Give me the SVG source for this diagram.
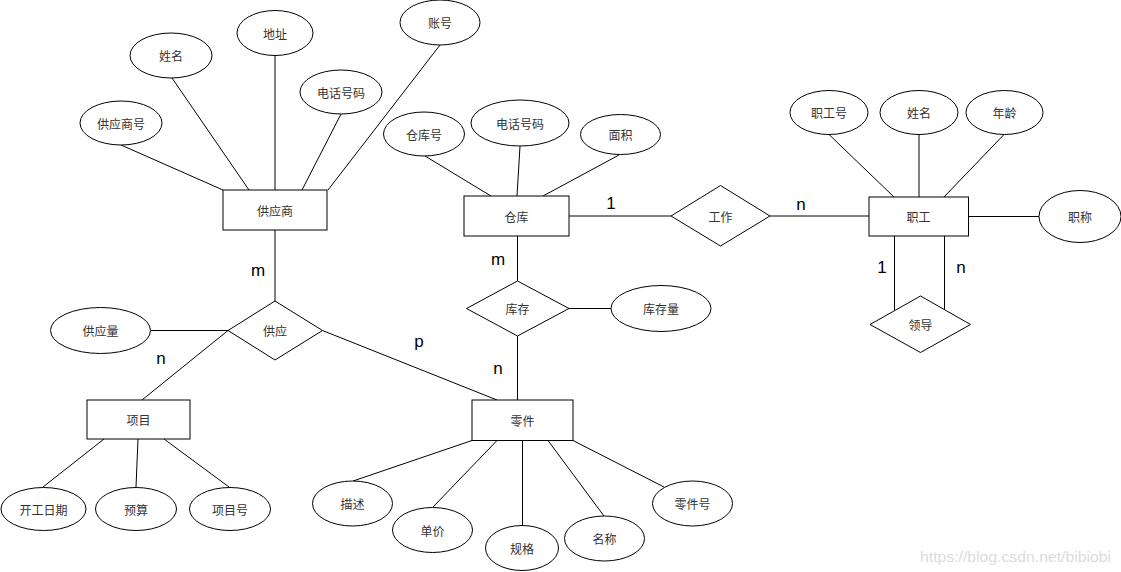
<svg xmlns="http://www.w3.org/2000/svg" width="1121" height="572" viewBox="0 0 1121 572">
<style>
.s{fill:#fff;stroke:#000;stroke-width:1}
.t{font-family:"Noto Sans CJK SC","Liberation Sans",sans-serif;font-size:12px;fill:#333;text-anchor:middle;dominant-baseline:central}
.c{font-family:"Liberation Sans",Arial,sans-serif;font-size:17px;fill:#000;text-anchor:middle;dominant-baseline:central}
#connectors line{stroke:#000;stroke-width:1}
</style>
<rect width="1121" height="572" fill="#fff"/>
<g id="connectors">
<line x1="121" y1="145" x2="223" y2="190"/>
<line x1="172" y1="78" x2="249" y2="190"/>
<line x1="275" y1="55" x2="275" y2="190"/>
<line x1="341" y1="114" x2="302" y2="190"/>
<line x1="440" y1="45" x2="328" y2="190"/>
<line x1="275" y1="230" x2="275" y2="301"/>
<line x1="151" y1="330.5" x2="228" y2="330.5"/>
<line x1="228" y1="330.5" x2="142" y2="400"/>
<line x1="322.5" y1="330.5" x2="497" y2="400"/>
<line x1="104" y1="439" x2="43" y2="487"/>
<line x1="138" y1="439" x2="136" y2="487"/>
<line x1="164" y1="439" x2="229" y2="487"/>
<line x1="425" y1="156" x2="491" y2="196"/>
<line x1="520" y1="146" x2="517" y2="196"/>
<line x1="619" y1="155" x2="543" y2="196"/>
<line x1="569" y1="216" x2="671" y2="216"/>
<line x1="770" y1="216" x2="869" y2="216"/>
<line x1="517.5" y1="236" x2="517.5" y2="281"/>
<line x1="569" y1="308.5" x2="611" y2="308.5"/>
<line x1="517.5" y1="336" x2="517.5" y2="400"/>
<line x1="472" y1="440.5" x2="353" y2="481"/>
<line x1="497" y1="440.5" x2="433" y2="507"/>
<line x1="522.5" y1="440.5" x2="522.5" y2="525"/>
<line x1="548" y1="440.5" x2="604" y2="516"/>
<line x1="573" y1="440.5" x2="664" y2="487"/>
<line x1="829" y1="134.5" x2="894" y2="197"/>
<line x1="919" y1="134.5" x2="919" y2="197"/>
<line x1="1004" y1="134.5" x2="944" y2="197"/>
<line x1="968.5" y1="216.5" x2="1039" y2="216.5"/>
<line x1="894.5" y1="236" x2="894.5" y2="310"/>
<line x1="944.5" y1="236" x2="944.5" y2="310"/>
</g>
<g id="labels">
<text class="c" x="258" y="270">m</text>
<text class="c" x="161" y="358">n</text>
<text class="c" x="419" y="341">p</text>
<text class="c" x="611" y="203">1</text>
<text class="c" x="498" y="259">m</text>
<text class="c" x="498" y="368">n</text>
<text class="c" x="801" y="204">n</text>
<text class="c" x="882" y="267">1</text>
<text class="c" x="961" y="267">n</text>
</g>
<g id="supplier"><rect class="s" x="223" y="190" width="104" height="40"/><text class="t" x="275" y="210">供应商</text></g>
<g id="supplier_no"><ellipse class="s" cx="121" cy="123" rx="41" ry="22"/><text class="t" x="121" y="123">供应商号</text></g>
<g id="supplier_name"><ellipse class="s" cx="171" cy="55.5" rx="41" ry="22.5"/><text class="t" x="171" y="55.5">姓名</text></g>
<g id="supplier_addr"><ellipse class="s" cx="275" cy="33" rx="38" ry="22.5"/><text class="t" x="275" y="33">地址</text></g>
<g id="supplier_tel"><ellipse class="s" cx="341" cy="92" rx="41" ry="22"/><text class="t" x="341" y="92">电话号码</text></g>
<g id="supplier_acct"><ellipse class="s" cx="440" cy="22.5" rx="40" ry="22.5"/><text class="t" x="440" y="22.5">账号</text></g>
<g id="supply"><polygon class="s" points="275,301 322.5,330.5 275,360 228,330.5"/><text class="t" x="275" y="330.5">供应</text></g>
<g id="supply_qty"><ellipse class="s" cx="100.5" cy="330.5" rx="50" ry="23"/><text class="t" x="100.5" y="330.5">供应量</text></g>
<g id="project"><rect class="s" x="87" y="400" width="103" height="39"/><text class="t" x="138.5" y="419.5">项目</text></g>
<g id="start_date"><ellipse class="s" cx="43.5" cy="509" rx="42.5" ry="21.5"/><text class="t" x="43.5" y="509">开工日期</text></g>
<g id="budget"><ellipse class="s" cx="136" cy="509" rx="40.5" ry="21.5"/><text class="t" x="136" y="509">预算</text></g>
<g id="project_no"><ellipse class="s" cx="230" cy="509" rx="40.5" ry="21.5"/><text class="t" x="230" y="509">项目号</text></g>
<g id="warehouse"><rect class="s" x="464" y="196" width="105" height="40"/><text class="t" x="516.5" y="216">仓库</text></g>
<g id="warehouse_no"><ellipse class="s" cx="424" cy="134" rx="40.5" ry="22"/><text class="t" x="424" y="134">仓库号</text></g>
<g id="warehouse_tel"><ellipse class="s" cx="520" cy="123" rx="49" ry="23"/><text class="t" x="520" y="123">电话号码</text></g>
<g id="warehouse_area"><ellipse class="s" cx="620.5" cy="134.5" rx="40" ry="20"/><text class="t" x="620.5" y="134.5">面积</text></g>
<g id="work"><polygon class="s" points="720.5,185.5 770,216 720.5,246 671,216"/><text class="t" x="720.5" y="216">工作</text></g>
<g id="stock"><polygon class="s" points="517.5,281 569,308.5 517.5,336 466.5,308.5"/><text class="t" x="517.5" y="308.5">库存</text></g>
<g id="stock_qty"><ellipse class="s" cx="661" cy="308.5" rx="50" ry="23"/><text class="t" x="661" y="308.5">库存量</text></g>
<g id="part"><rect class="s" x="472" y="400" width="101" height="40.5"/><text class="t" x="522.5" y="420">零件</text></g>
<g id="part_desc"><ellipse class="s" cx="352.5" cy="503.5" rx="40" ry="22.5"/><text class="t" x="352.5" y="503.5">描述</text></g>
<g id="part_price"><ellipse class="s" cx="432.5" cy="530" rx="40" ry="22.5"/><text class="t" x="432.5" y="530">单价</text></g>
<g id="part_spec"><ellipse class="s" cx="522" cy="548" rx="36.5" ry="22.5"/><text class="t" x="522" y="548">规格</text></g>
<g id="part_name"><ellipse class="s" cx="604.5" cy="538.5" rx="40" ry="22.5"/><text class="t" x="604.5" y="538.5">名称</text></g>
<g id="part_no"><ellipse class="s" cx="692.5" cy="503.5" rx="40" ry="22.5"/><text class="t" x="692.5" y="503.5">零件号</text></g>
<g id="employee"><rect class="s" x="869" y="197" width="99.5" height="39"/><text class="t" x="918.5" y="216.5">职工</text></g>
<g id="emp_no"><ellipse class="s" cx="829" cy="112.5" rx="39" ry="22"/><text class="t" x="829" y="112.5">职工号</text></g>
<g id="emp_name"><ellipse class="s" cx="919" cy="112.5" rx="39" ry="22"/><text class="t" x="919" y="112.5">姓名</text></g>
<g id="emp_age"><ellipse class="s" cx="1004.5" cy="112.5" rx="38.5" ry="22"/><text class="t" x="1004.5" y="112.5">年龄</text></g>
<g id="emp_title"><ellipse class="s" cx="1080" cy="216.5" rx="41" ry="26"/><text class="t" x="1080" y="216.5">职称</text></g>
<g id="lead"><polygon class="s" points="920.5,296 970.5,324.5 920.5,352.5 870,324.5"/><text class="t" x="920.5" y="324.5">领导</text></g>
<text x="920" y="556" font-family="Liberation Sans,Arial,sans-serif" font-size="15" fill="#dcdcdc" textLength="191" lengthAdjust="spacingAndGlyphs" dominant-baseline="central">https://blog.csdn.net/bibiobi</text>
</svg>
